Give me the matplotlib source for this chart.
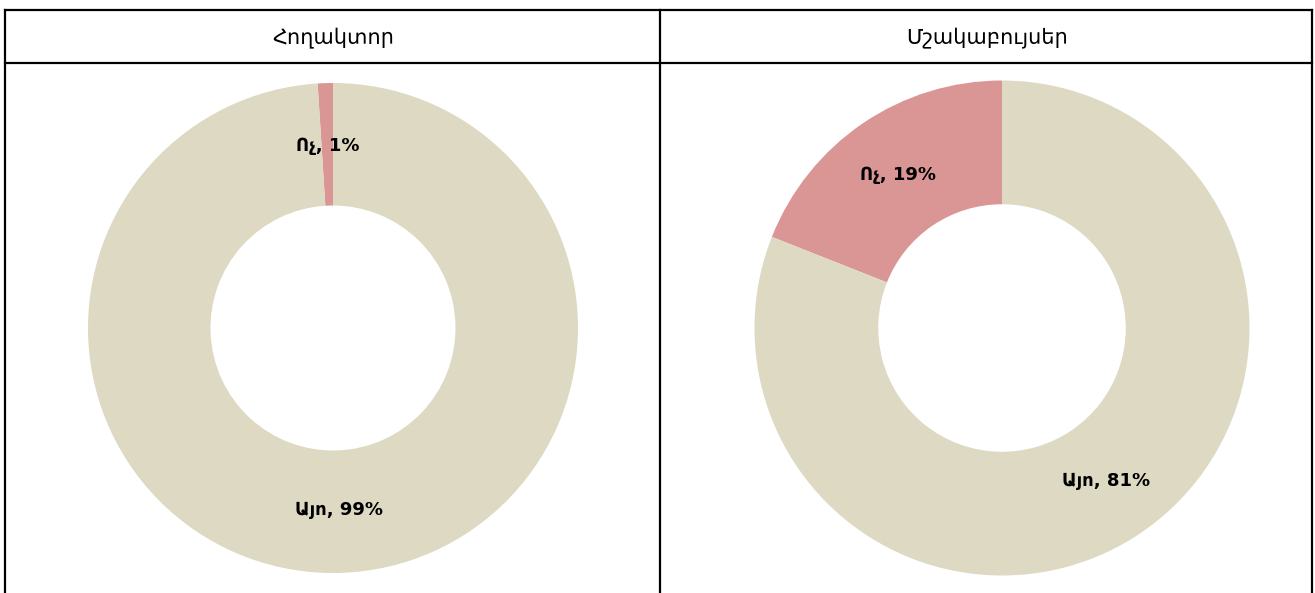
import matplotlib.pyplot as plt
import numpy as np

plt.rcParams['font.family'] = ['DejaVu Sans']

titles = ["Հողակտոր", "Մշակաբույսեր"]
categories = ["Ոչ", "Այո"]
values_left = [1, 99]
values_right = [19, 81]
colors = ["#D99694", "#DDD9C3"]

W, H = 1315, 593
fig = plt.figure(figsize=(W / 100, H / 100), dpi=100)

# table-like frame
def hline(y, x0, x1):
    fig.add_artist(plt.Line2D([x0 / W, x1 / W], [1 - y / H, 1 - y / H], color="black", lw=1.6))

def vline(x, y0, y1):
    fig.add_artist(plt.Line2D([x / W, x / W], [1 - y0 / H, 1 - y1 / H], color="black", lw=1.6))

hline(10, 5, 1312)
hline(63, 5, 1312)
vline(5, 10, 600)
vline(660, 10, 600)
vline(1312, 10, 600)

fig.text(333 / W, 1 - 38 / H, titles[0], ha="center", va="center", fontsize=15)
fig.text(987 / W, 1 - 38 / H, titles[1], ha="center", va="center", fontsize=15)


def donut(cx, cy, r, vals):
    ax = fig.add_axes([(cx - r) / W, (H - cy - r) / H, 2 * r / W, 2 * r / H])
    wedges, _ = ax.pie(vals, colors=colors, startangle=90, counterclock=True,
                       radius=1, wedgeprops=dict(width=0.5, linewidth=0))
    ax.set_xlim(-1, 1)
    ax.set_ylim(-1, 1)
    ax.set_aspect("equal")
    ax.axis("off")
    for w, cat, v in zip(wedges, categories, vals):
        ang = np.deg2rad((w.theta1 + w.theta2) / 2)
        ax.text(0.745 * np.cos(ang), 0.745 * np.sin(ang), f"{cat}, {v}%",
                ha="center", va="center", fontsize=13, fontweight="bold")


donut(333, 328, 245, values_left)
donut(1002, 328, 247.5, values_right)

fig.savefig("out.png", dpi=100)
